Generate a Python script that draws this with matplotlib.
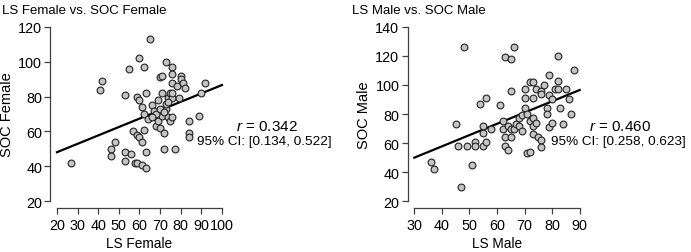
import numpy as np
from matplotlib import pyplot as plt

plt.rcParams['font.family'] = ['Liberation Sans', 'DejaVu Sans']
plt.rcParams['mathtext.fontset'] = 'custom'
plt.rcParams['mathtext.it'] = 'Liberation Sans:italic'
plt.rcParams['mathtext.rm'] = 'Liberation Sans'

# LS Female vs SOC Female
ls_female = [27, 41, 42, 46, 46, 48, 53, 53, 53, 55, 56, 57, 59, 58, 59, 60, 60, 59, 60,
             61, 61, 61, 62, 62, 62, 63, 63, 63, 64, 65, 66, 67, 67, 68, 69, 69, 70, 71,
             70, 71, 71, 72, 72, 73, 73, 74, 74, 75, 75, 76, 76, 76, 76, 76, 76, 77, 78,
             79, 80, 80, 81, 82, 84, 84, 84, 89, 90, 92, 68, 70, 73, 74, 72, 66]
soc_female = [42, 84, 89, 50, 46, 54, 81, 48, 43, 96, 47, 60, 80, 42, 42, 102, 78, 58, 57,
              74, 54, 41, 97, 70, 61, 82, 48, 39, 67, 113, 75, 72, 69, 63, 78, 66, 91, 92,
              62, 69, 82, 59, 50, 100, 73, 79, 68, 82, 66, 97, 93, 88, 79, 68, 82, 50, 86,
              79, 92, 90, 88, 85, 66, 59, 57, 69, 82, 88, 70, 73, 76, 77, 71, 68]

# LS Male vs SOC Male
ls_male = [36, 37, 45, 46, 47, 48, 49, 51, 52, 52, 54, 55, 55, 55, 56, 56, 58, 61, 62, 62,
           63, 63, 63, 64, 64, 65, 65, 65, 65, 66, 66, 67, 68, 68, 69, 69, 70, 70, 70, 71,
           71, 72, 72, 72, 73, 73, 73, 73, 73, 74, 74, 75, 76, 76, 76, 76, 77, 78, 78, 79,
           79, 79, 80, 80, 81, 82, 82, 82, 83, 84, 85, 86, 87, 88]
soc_male = [47, 42, 73, 58, 30, 126, 58, 45, 61, 58, 87, 72, 67, 58, 91, 61, 70, 86, 75, 70,
            119, 64, 58, 55, 72, 118, 96, 64, 70, 126, 70, 73, 72, 77, 68, 79, 97, 84, 91, 80,
            53, 102, 75, 54, 102, 91, 77, 72, 66, 97, 74, 64, 96, 94, 62, 57, 100, 84, 80, 107,
            93, 71, 90, 74, 97, 120, 103, 97, 84, 73, 97, 90, 80, 110]

fit_female = (0.481, 38.5)   # slope, intercept
fit_male = (0.775, 26.75)

panels = [
    dict(x=ls_female, y=soc_female, fit=fit_female, xticks=np.arange(20, 101, 10),
         yticks=np.arange(20, 121, 20), xlabel='LS Female', ylabel='SOC Female',
         title='LS Female vs. SOC Female', r='0.342', ci='[0.134, 0.522]',
         rect=[0.0729, 0.1727, 0.2579, 0.7455], tx=0.003, rx=0.386),
    dict(x=ls_male, y=soc_male, fit=fit_male, xticks=np.arange(30, 91, 10),
         yticks=np.arange(20, 141, 20), xlabel='LS Male', ylabel='SOC Male',
         title='LS Male vs. SOC Male', r='0.460', ci='[0.258, 0.623]',
         rect=[0.590, 0.1727, 0.2585, 0.7455], tx=0.510, rx=0.898),
]

fig = plt.figure(figsize=(6.91, 2.53), dpi=100)
axis_col = '0.25'

for p in panels:
    ax = fig.add_axes(p['rect'])
    xt, yt = p['xticks'], p['yticks']
    xpad = (xt[-1] - xt[0]) * 0.04
    ypad = (yt[-1] - yt[0]) * 0.04
    ax.set_xlim(xt[0] - xpad, xt[-1] + xpad)
    ax.set_ylim(yt[0] - ypad, yt[-1] + ypad)

    slope, icpt = p['fit']
    xs = np.array([xt[0], xt[-1]])
    ax.plot(xs, slope * xs + icpt, color='black', lw=1.6, zorder=3)
    ax.scatter(p['x'], p['y'], s=24, facecolor='#c4c4c4', edgecolor='#222222',
               linewidth=0.8, zorder=4)

    ax.set_xticks(xt)
    ax.set_yticks(yt)
    for side in ['top', 'right']:
        ax.spines[side].set_visible(False)
    ax.spines['bottom'].set_bounds(xt[0], xt[-1])
    ax.spines['left'].set_bounds(yt[0], yt[-1])
    for side in ['bottom', 'left']:
        ax.spines[side].set_color(axis_col)
        ax.spines[side].set_linewidth(0.9)
    ax.tick_params(length=4, width=0.9, color=axis_col, labelsize=10.4, pad=2)
    ax.tick_params(axis='x', pad=3)
    ax.set_xlabel(p['xlabel'], fontsize=9.8, labelpad=3)
    ax.set_ylabel(p['ylabel'], fontsize=10.5, labelpad=3)

    fig.text(p['tx'], 0.958, p['title'], fontsize=9.5, va='center', ha='left')
    fig.text(p['rx'], 0.499, r'$r$ = ' + p['r'], fontsize=11, ha='center', va='center')
    fig.text(p['rx'] - 0.003, 0.440, '95% CI: ' + p['ci'], fontsize=9.7,
             ha='center', va='center')

fig.savefig('out.png', dpi=100)
